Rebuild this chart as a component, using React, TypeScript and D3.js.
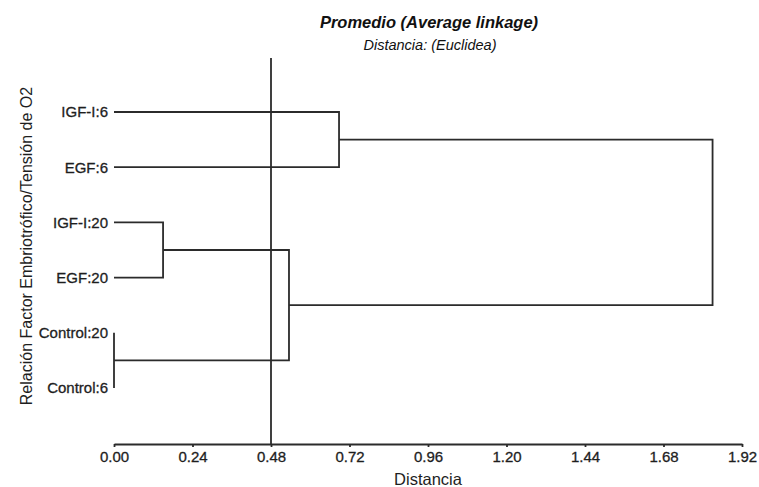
import { useEffect, useRef } from 'react';
import * as d3 from 'd3';

// Leaves, top to bottom, as they appear in the dendrogram
const leaves = ['IGF-I:6', 'EGF:6', 'IGF-I:20', 'EGF:20', 'Control:20', 'Control:6'];

// Merge steps (linkage style): index a, index b, joining distance.
// Indices 0..5 are leaves, 6.. are the clusters created by previous steps.
const mergeA = [4, 2, 7, 0, 9];
const mergeB = [5, 3, 6, 1, 8];
const mergeHeight = [0.0, 0.15, 0.535, 0.688, 1.83];

const cutHeight = 0.48;
const xTicks = [0, 0.24, 0.48, 0.72, 0.96, 1.2, 1.44, 1.68, 1.92];

const title = 'Promedio (Average linkage)';
const subtitle = 'Distancia: (Euclidea)';
const xLabel = 'Distancia';
const yLabel = 'Relación Factor Embriotrófico/Tensión de O2';

const W = 759;
const H = 487;
const FONT = '"Liberation Sans", Arial, Helvetica, sans-serif';
const INK = '#2b2b2b';
const TEXT = '#1e1e1e';

export default function App() {
  const svgRef = useRef<SVGSVGElement | null>(null);

  useEffect(() => {
    if (!svgRef.current) return;
    const svg = d3.select(svgRef.current);
    svg.selectAll('*').remove();

    const axisY = 444;
    const x = d3.scaleLinear().domain([0, 1.92]).range([114, 742]);
    const y = d3.scalePoint<string>().domain(leaves).range([112, 388]);

    // node positions: leaves first, then clusters
    const nodeX: number[] = leaves.map(() => 0);
    const nodeY: number[] = leaves.map(l => y(l) as number);

    const g = svg.append('g')
      .attr('fill', 'none')
      .attr('stroke', INK)
      .attr('stroke-width', 1.8);

    mergeHeight.forEach((h, i) => {
      const a = mergeA[i];
      const b = mergeB[i];
      const ya = nodeY[a];
      const yb = nodeY[b];
      const path = d3.path();
      path.moveTo(x(nodeX[a]), ya);
      path.lineTo(x(h), ya);
      path.lineTo(x(h), yb);
      path.lineTo(x(nodeX[b]), yb);
      g.append('path').attr('d', path.toString());
      nodeX.push(h);
      nodeY.push((ya + yb) / 2);
    });

    // cut line
    svg.append('line')
      .attr('x1', x(cutHeight)).attr('x2', x(cutHeight))
      .attr('y1', 58).attr('y2', axisY)
      .attr('stroke', INK)
      .attr('stroke-width', 1.8);

    // leaf labels
    svg.append('g')
      .selectAll('text')
      .data(leaves)
      .join('text')
      .attr('x', 108)
      .attr('y', d => y(d) as number)
      .attr('dy', '0.36em')
      .attr('text-anchor', 'end')
      .attr('font-family', FONT)
      .attr('font-size', 15)
      .attr('fill', TEXT)
      .attr('stroke', TEXT)
      .attr('stroke-width', 0.3)
      .text(d => d);

    // x axis
    const ax = svg.append('g')
      .attr('transform', `translate(0,${axisY})`)
      .call(
        d3.axisBottom(x)
          .tickValues(xTicks)
          .tickFormat(d3.format('.2f') as any)
          .tickSize(3)
          .tickSizeOuter(0)
          .tickPadding(4)
      );
    ax.select('.domain').attr('stroke', INK).attr('stroke-width', 1.8);
    ax.selectAll('.tick line').attr('stroke', INK).attr('stroke-width', 1.8);
    ax.selectAll('.tick text')
      .attr('font-family', FONT)
      .attr('font-size', 15)
      .attr('fill', TEXT)
      .attr('stroke', TEXT)
      .attr('stroke-width', 0.3);

    svg.append('text')
      .attr('x', 428)
      .attr('y', 485)
      .attr('text-anchor', 'middle')
      .attr('font-family', FONT)
      .attr('font-size', 16.5)
      .attr('fill', TEXT)
      .text(xLabel);

    svg.append('text')
      .attr('transform', 'translate(32,246) rotate(-90)')
      .attr('text-anchor', 'middle')
      .attr('font-family', FONT)
      .attr('font-size', 16)
      .attr('fill', TEXT)
      .text(yLabel);

    svg.append('text')
      .attr('x', 429)
      .attr('y', 28)
      .attr('text-anchor', 'middle')
      .attr('font-family', FONT)
      .attr('font-size', 16.5)
      .attr('font-weight', 'bold')
      .attr('font-style', 'italic')
      .attr('fill', '#111')
      .text(title);

    svg.append('text')
      .attr('x', 430)
      .attr('y', 50)
      .attr('text-anchor', 'middle')
      .attr('font-family', FONT)
      .attr('font-size', 14.5)
      .attr('font-style', 'italic')
      .attr('fill', '#111')
      .text(subtitle);
  }, []);

  return (
    <svg
      ref={svgRef}
      width={W}
      height={H}
      style={{ position: 'absolute', left: 0, top: 0, background: '#fff', display: 'block' }}
    />
  );
}
